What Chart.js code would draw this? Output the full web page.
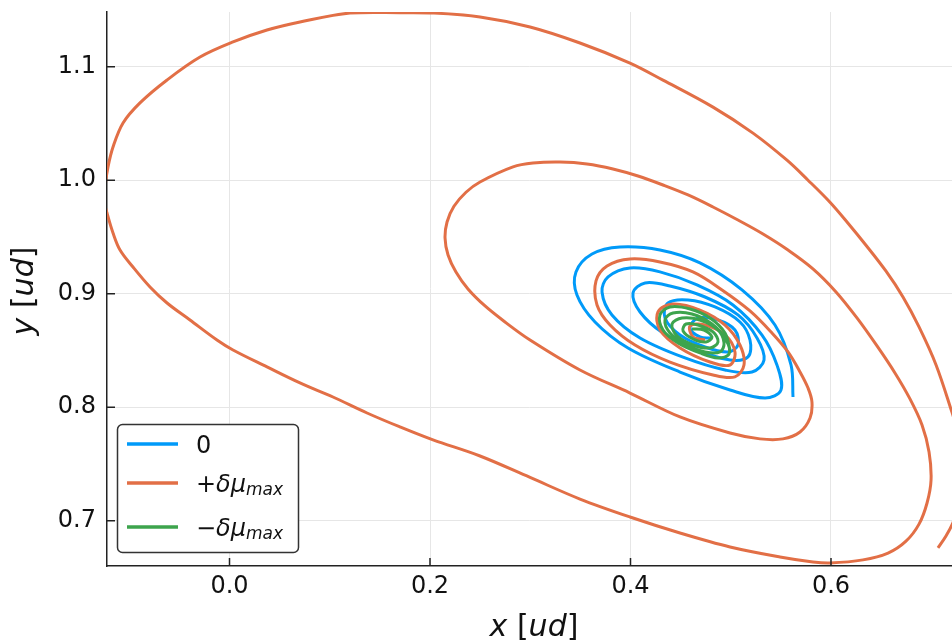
<!DOCTYPE html>
<html>
<head>
<meta charset="utf-8">
<script src="https://cdn.jsdelivr.net/npm/chart.js@4.4.0/dist/chart.umd.min.js"></script>
<style>
  html, body { margin: 0; padding: 0; background: #fff; }
  #wrap { width: 952px; height: 640px; }
</style>
</head>
<body>
<div id="wrap"><canvas id="phase" width="952" height="640"></canvas></div>
<script>
// trajectory for delta = 0
const noneX = [0.5621, 0.5601, 0.5441, 0.5112, 0.4693, 0.4294, 0.3895, 0.3616, 0.3456, 0.3466, 0.3646, 0.3975, 0.4494, 0.4993, 0.5342, 0.5501,
  0.5461, 0.5312, 0.5022, 0.4663, 0.4294, 0.3995, 0.3776, 0.3716, 0.3815, 0.4095, 0.4544, 0.4943, 0.5212, 0.5332,
  0.5262, 0.5072, 0.4743, 0.4394, 0.4145, 0.4025, 0.4095, 0.4324, 0.4663, 0.4993, 0.5172, 0.5192,
  0.5092, 0.4843, 0.4574, 0.4374, 0.4344, 0.4494, 0.4743, 0.4973, 0.5072, 0.5042, 0.4873, 0.4673, 0.4594, 0.4693, 0.4813];
const noneY = [0.8090, 0.8372, 0.8724, 0.9033, 0.9271, 0.9385, 0.9412, 0.9350, 0.9192, 0.8989, 0.8751, 0.8522, 0.8310, 0.8152, 0.8081, 0.8152,
  0.8372, 0.8636, 0.8901, 0.9077, 0.9192, 0.9227, 0.9148, 0.9015, 0.8813, 0.8610, 0.8434, 0.8328, 0.8310, 0.8416,
  0.8610, 0.8813, 0.8971, 0.9068, 0.9095, 0.9006, 0.8839, 0.8654, 0.8504, 0.8416, 0.8443, 0.8592,
  0.8751, 0.8883, 0.8945, 0.8918, 0.8786, 0.8636, 0.8531, 0.8487, 0.8548, 0.8680, 0.8768, 0.8786, 0.8698, 0.8619, 0.8610];

// trajectory for +delta mu_max (starts lower right, runs past the right edge, then spirals in)
const plusX = [0.7067, 0.7147, 0.7215, 0.7270, 0.7310, 0.7330, 0.7320, 0.7290, 0.7250, 0.7207,
  0.7048, 0.6878, 0.6718, 0.6549, 0.6349, 0.6170, 0.5990, 0.5771, 0.5561, 0.5222, 0.4823, 0.4324, 0.3995, 0.3496,
  0.2998, 0.2499, 0.2030, 0.1701, 0.1202, 0.0703, 0.0374, 0.0035, -0.0294, -0.0623, -0.0893, -0.1062, -0.1162, -0.1212,
  -0.1240, -0.1245, -0.1222, -0.1162, -0.1092, -0.0963, -0.0793, -0.0623, -0.0394, -0.0125, 0.0035, 0.0374, 0.0703,
  0.1032, 0.1372, 0.1701, 0.2030, 0.2499, 0.2998, 0.3496, 0.3995, 0.4494, 0.4993, 0.5491, 0.5820, 0.5990, 0.6319,
  0.6569, 0.6748, 0.6878, 0.6958, 0.6998, 0.6978, 0.6908, 0.6788, 0.6638, 0.6459, 0.6259, 0.6050, 0.5820, 0.5571, 0.5322,
  0.5072, 0.4823, 0.4574, 0.4324, 0.4075, 0.3825, 0.3566, 0.3297, 0.3027, 0.2828, 0.2499, 0.2359, 0.2239, 0.2170,
  0.2150, 0.2180, 0.2259, 0.2379, 0.2549, 0.2748, 0.2998, 0.3496, 0.3995, 0.4494, 0.4993, 0.5292, 0.5521, 0.5691,
  0.5791, 0.5810, 0.5771, 0.5691, 0.5571, 0.5411, 0.5192, 0.4913, 0.4623, 0.4294, 0.3995, 0.3766, 0.3656,
  0.3666, 0.3796, 0.4045, 0.4394, 0.4823, 0.5042, 0.5132, 0.5092, 0.4943, 0.4693, 0.4424,
  0.4274, 0.4294, 0.4494, 0.4793, 0.4993, 0.5042, 0.4943, 0.4743, 0.4594, 0.4624, 0.4743];
const plusY = [0.6760, 0.6866, 0.6980, 0.7120, 0.7250, 0.7400, 0.7550, 0.7700, 0.7830, 0.7955,
  0.8372, 0.8707, 0.8971, 0.9198, 0.9427, 0.9621, 0.9806, 1.0000, 1.0176, 1.0415, 1.0644, 1.0882, 1.1032, 1.1209,
  1.1350, 1.1438, 1.1473, 1.1476, 1.1473, 1.1394, 1.1323, 1.1218, 1.1085, 1.0883, 1.0681, 1.0504, 1.0293, 1.0117,
  0.9950, 0.9800, 0.9711, 0.9535, 0.9385, 0.9235, 0.9059, 0.8918, 0.8768, 0.8592, 0.8504, 0.8355, 0.8214,
  0.8090, 0.7949, 0.7826, 0.7712, 0.7570, 0.7381, 0.7191, 0.7033, 0.6892, 0.6769, 0.6681, 0.6637, 0.6628, 0.6655,
  0.6715, 0.6820, 0.6970, 0.7156, 0.7359, 0.7606, 0.7844, 0.8073, 0.8302, 0.8540, 0.8787, 0.9016, 0.9219, 0.9385, 0.9526,
  0.9649, 0.9764, 0.9870, 0.9958, 1.0037, 1.0099, 1.0143, 1.0160, 1.0151, 1.0117, 0.9984, 0.9894, 0.9770, 0.9632,
  0.9491, 0.9341, 0.9191, 0.9042, 0.8892, 0.8751, 0.8592, 0.8328, 0.8125, 0.7914, 0.7773, 0.7721, 0.7721, 0.7782,
  0.7905, 0.8046, 0.8169, 0.8311, 0.8487, 0.8654, 0.8848, 0.9033, 0.9192, 0.9280, 0.9306, 0.9244, 0.9112,
  0.8901, 0.8725, 0.8548, 0.8398, 0.8284, 0.8267, 0.8372, 0.8548, 0.8724, 0.8856, 0.8909,
  0.8839, 0.8680, 0.8522, 0.8398, 0.8372, 0.8487, 0.8637, 0.8725, 0.8716, 0.8619, 0.8592];

// trajectory for -delta mu_max
const minusX = [0.4993, 0.4943, 0.4793, 0.4594, 0.4394, 0.4294, 0.4324, 0.4474, 0.4693, 0.4873, 0.4983,
  0.4953, 0.4813, 0.4613, 0.4424, 0.4344, 0.4394, 0.4554, 0.4743, 0.4893, 0.4933,
  0.4873, 0.4693, 0.4514, 0.4414, 0.4464, 0.4624, 0.4793, 0.4873, 0.4823,
  0.4673, 0.4554, 0.4524, 0.4624, 0.4753, 0.4813, 0.4733, 0.4613];
const minusY = [0.8504, 0.8654, 0.8786, 0.8865, 0.8883, 0.8813, 0.8680, 0.8566, 0.8478, 0.8434, 0.8469,
  0.8592, 0.8733, 0.8821, 0.8830, 0.8768, 0.8654, 0.8548, 0.8487, 0.8487, 0.8566,
  0.8680, 0.8768, 0.8786, 0.8733, 0.8628, 0.8548, 0.8522, 0.8575, 0.8663,
  0.8724, 0.8733, 0.8672, 0.8601, 0.8575, 0.8619, 0.8680, 0.8689];

const xTicks = [0.0, 0.2, 0.4, 0.6];
const yTicks = [0.7, 0.8, 0.9, 1.0, 1.1];
const xRange = [-0.1222, 0.7207];
const yRange = [0.6601, 1.1482];

// legend text: [sign, symbol, subscript]
const seriesLabels = [['0', '', ''], ['+', 'δμ', 'max'], ['−', 'δμ', 'max']];
const seriesColors = ['#009af9', '#e26f46', '#3da44d'];

const FONT = '"DejaVu Sans"';
const toPoints = (xs, ys) => xs.map((v, i) => ({ x: v, y: ys[i] }));

// draw a run of [text, font, dy] pieces starting at x
function textWidth(ctx, parts) {
  let w = 0;
  for (const [t, font] of parts) { ctx.font = font; w += ctx.measureText(t).width; }
  return w;
}
function drawParts(ctx, parts, x, y) {
  let cx = x;
  for (const [t, font, dy] of parts) {
    ctx.font = font;
    ctx.fillText(t, cx, y + (dy || 0));
    cx += ctx.measureText(t).width;
  }
}

const decorations = {
  id: 'decorations',
  afterDraw(chart) {
    const { ctx, chartArea, scales } = chart;
    ctx.save();

    // tick marks pointing into the plot
    ctx.strokeStyle = '#222';
    ctx.lineWidth = 1.5;
    ctx.beginPath();
    xTicks.forEach(v => {
      const px = scales.x.getPixelForValue(v);
      ctx.moveTo(px, chartArea.bottom);
      ctx.lineTo(px, chartArea.bottom - 8);
    });
    yTicks.forEach(v => {
      const py = scales.y.getPixelForValue(v);
      ctx.moveTo(chartArea.left, py);
      ctx.lineTo(chartArea.left + 8, py);
    });
    ctx.stroke();

    // axis titles
    ctx.fillStyle = '#111';
    ctx.textBaseline = 'alphabetic';
    const up = '30px ' + FONT, it = 'italic 30px ' + FONT;
    const xTitle = [['x', it], [' [', up], ['ud', it], [']', up]];
    drawParts(ctx, xTitle, 534 - textWidth(ctx, xTitle) / 2, 636);
    const yTitle = [['y', it], [' [', up], ['ud', it], [']', up]];
    ctx.save();
    ctx.translate(33, 291);
    ctx.rotate(-Math.PI / 2);
    drawParts(ctx, yTitle, -textWidth(ctx, yTitle) / 2, 0);
    ctx.restore();

    // legend box
    const bx = 117.5, by = 424.5, bw = 181, bh = 128, r = 5;
    ctx.beginPath();
    ctx.moveTo(bx + r, by);
    ctx.arcTo(bx + bw, by, bx + bw, by + bh, r);
    ctx.arcTo(bx + bw, by + bh, bx, by + bh, r);
    ctx.arcTo(bx, by + bh, bx, by, r);
    ctx.arcTo(bx, by, bx + bw, by, r);
    ctx.closePath();
    ctx.fillStyle = '#fff';
    ctx.fill();
    ctx.strokeStyle = '#333';
    ctx.lineWidth = 1.5;
    ctx.stroke();

    const rows = [444, 483, 527];
    seriesLabels.forEach((lab, i) => {
      ctx.strokeStyle = seriesColors[i];
      ctx.lineWidth = 3.5;
      ctx.beginPath();
      ctx.moveTo(127, rows[i]);
      ctx.lineTo(178, rows[i]);
      ctx.stroke();
      ctx.fillStyle = '#111';
      drawParts(ctx, [
        [lab[0], '24px ' + FONT, 0],
        [lab[1], 'italic 24px ' + FONT, 0],
        [lab[2], 'italic 17px ' + FONT, 3]
      ], 196, rows[i] + 9);
    });

    ctx.restore();
  }
};

const axisFont = { family: 'DejaVu Sans', size: 24 };
// keep the plot box fixed: no extra room reserved for edge labels
const noEdgePadding = s => { s.paddingTop = 0; s.paddingBottom = 0; s.paddingLeft = 0; s.paddingRight = 0; };

new Chart(document.getElementById('phase'), {
  type: 'scatter',
  data: {
    datasets: [
      { data: toPoints(noneX, noneY), borderColor: seriesColors[0], order: 2 },
      { data: toPoints(plusX, plusY), borderColor: seriesColors[1], order: 1 },
      { data: toPoints(minusX, minusY), borderColor: seriesColors[2], order: 0 }
    ].map(ds => Object.assign(ds, {
      showLine: true, borderWidth: 3, pointRadius: 0, tension: 0.35, fill: false
    }))
  },
  options: {
    responsive: false,
    devicePixelRatio: 1,
    animation: false,
    layout: { padding: { top: 12, right: 0, bottom: 0, left: 0 } },
    plugins: { legend: { display: false }, tooltip: { enabled: false } },
    scales: {
      x: {
        type: 'linear', min: xRange[0], max: xRange[1],
        afterBuildTicks: s => { s.ticks = xTicks.map(v => ({ value: v })); },
        afterFit: s => { s.height = 74; noEdgePadding(s); },
        grid: { color: '#e6e6e6', lineWidth: 1, drawTicks: false },
        border: { color: '#222', width: 1.5 },
        ticks: { font: axisFont, color: '#111', padding: 6, maxRotation: 0, autoSkip: false,
                 callback: v => v.toFixed(1) }
      },
      y: {
        type: 'linear', min: yRange[0], max: yRange[1],
        afterBuildTicks: s => { s.ticks = yTicks.map(v => ({ value: v })); },
        afterFit: s => { s.width = 107; noEdgePadding(s); },
        grid: { color: '#e6e6e6', lineWidth: 1, drawTicks: false },
        border: { color: '#222', width: 1.5 },
        ticks: { font: axisFont, color: '#111', padding: 11, autoSkip: false,
                 callback: v => v.toFixed(1) }
      }
    }
  },
  plugins: [decorations]
});
</script>
</body>
</html>
